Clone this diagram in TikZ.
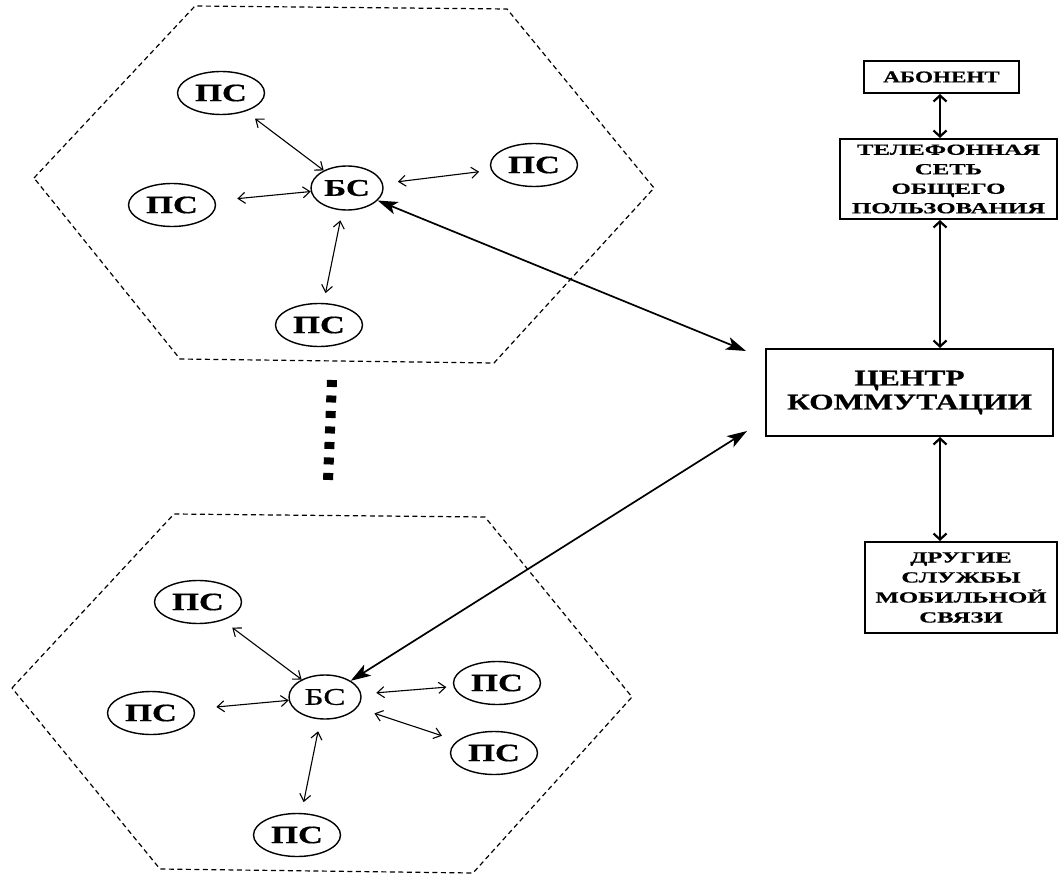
\documentclass[tikz,border=0pt]{standalone}
\usepackage{fontspec}
\setmainfont{Liberation Serif}
\newfontfamily\cellfont[FakeStretch=1.38,FakeBold=0.5]{Liberation Serif}
\newfontfamily\boxfont[FakeStretch=1.4,FakeBold=0.5]{Liberation Serif}
\newfontfamily\tallfont[FakeStretch=1.6,FakeBold=0.5]{Liberation Serif}
\usetikzlibrary{
	arrows.meta,
	calc,
	shapes.geometric
}

\begin{document}
\begin{tikzpicture}[
			x=1pt, y=-1pt,
			cell/.style={
				dash pattern=on 5pt off 3.5pt,
				line width=1.2pt
			},
			ms/.style={
				ellipse,
				draw,
				line width=1.4pt,
				minimum width=87pt,
				minimum height=43pt,
				inner sep=0pt,
				font=\cellfont\bfseries\fontsize{25}{25}\selectfont
			},
			bs/.style={
				ms,
				minimum width=72pt,
				minimum height=44pt,
				font=\cellfont\bfseries\fontsize{24}{24}\selectfont
			},
			box/.style={
				rectangle,
				draw,
				line width=2pt,
				inner sep=0pt,
				align=center
			},
			link/.style={
				{Straight Barb[length=7pt,width=11pt]}-{Straight Barb[length=7pt,width=11pt]},
				line width=1.1pt
			},
			trunk/.style={
				{Stealth[length=20pt,width=13pt,inset=5pt]}-{Stealth[length=20pt,width=13pt,inset=5pt]},
				line width=1.7pt
			},
			feed/.style={
				{Straight Barb[length=6pt,width=13pt]}-{Straight Barb[length=6pt,width=13pt]},
				line width=2.2pt
			},
			more/.style={
				line width=10pt,
				dash pattern=on 7pt off 8.5pt
			}
			]
			
			\useasboundingbox (0,0) rectangle (1059,874);
			
			% upper cell
			\draw[cell] (34,178) -- (195,6) -- (507,9) -- (654,188) -- (494,363) -- (180,359) -- cycle;
			\node[bs] (bs1) at (347,188) {БС};
			\node[ms] (ps1a) at (221,93) {ПС};
			\node[ms] (ps1b) at (172,205) {ПС};
			\node[ms] (ps1c) at (534,165) {ПС};
			\node[ms] (ps1d) at (319,325) {ПС};
			
			\draw[link, shorten <=12pt] (ps1a) -- (bs1);
			\draw[link, shorten <=22pt] (ps1b) -- (bs1);
			\draw[link, shorten <=15pt, shorten >=12pt] (bs1) -- (ps1c);
			\draw[link, shorten <=10pt, shorten >=10pt] (bs1) -- (ps1d);
			
			% more cells
			\draw[more] (332,380) -- (328,481);
			
			% lower cell
			\draw[cell] (12,688) -- (174,514) -- (485,517) -- (632,697) -- (473,873) -- (160,869) -- cycle;
			\node[bs, font=\cellfont\fontsize{24}{24}\selectfont] (bs2) at (325,697) {БС};
			\node[ms] (ps2a) at (198,602) {ПС};
			\node[ms] (ps2b) at (151,713) {ПС};
			\node[ms] (ps2c) at (497,683) {ПС};
			\node[ms] (ps2d) at (494,753) {ПС};
			\node[ms] (ps2e) at (297,835) {ПС};
			
			\draw[link, shorten <=12pt] (ps2a) -- (bs2);
			\draw[link, shorten <=22pt] (ps2b) -- (bs2);
			\draw[link, shorten <=15pt, shorten >=7pt] (bs2) -- (ps2c);
			\draw[link, shorten <=18pt, shorten >=16pt] (bs2) -- (ps2d);
			\draw[link, shorten <=12pt, shorten >=11pt] (bs2) -- (ps2e);
			
			% switching side
			\node[box, minimum width=155pt, minimum height=32pt, font=\boxfont\bfseries\fontsize{16.5}{18}\selectfont] (abon) at (941.5,77) {АБОНЕНТ};
			\node[box, minimum width=217pt, minimum height=80pt, font=\tallfont\bfseries\fontsize{15.5}{19.5}\selectfont] (pstn) at (948.5,179) {ТЕЛЕФОННАЯ\\СЕТЬ\\ОБЩЕГО\\ПОЛЬЗОВАНИЯ};
			\node[box, minimum width=287pt, minimum height=87pt, font=\boxfont\bfseries\fontsize{22.5}{24}\selectfont] (msc) at (909.5,392.5) {ЦЕНТР\\КОММУТАЦИИ};
			\node[box, minimum width=192pt, minimum height=91pt, font=\tallfont\bfseries\fontsize{15.5}{20}\selectfont] (other) at (961,587.5) {ДРУГИЕ\\СЛУЖБЫ\\МОБИЛЬНОЙ\\СВЯЗИ};
			
			\coordinate (spine) at (940,0);
			\coordinate (in1) at ($(msc.north west)+(-19,3)$);
			\coordinate (in2) at ($(msc.south west)+(-18,-6)$);
			
			\draw[feed] (abon.south -| spine) -- (pstn.north -| spine);
			\draw[feed] (pstn.south -| spine) -- (msc.north -| spine);
			\draw[feed] (msc.south -| spine) -- (other.north -| spine);
			\draw[trunk] (bs1) -- (in1);
			\draw[trunk] (bs2) -- (in2);
			
		\end{tikzpicture}
\end{document}
